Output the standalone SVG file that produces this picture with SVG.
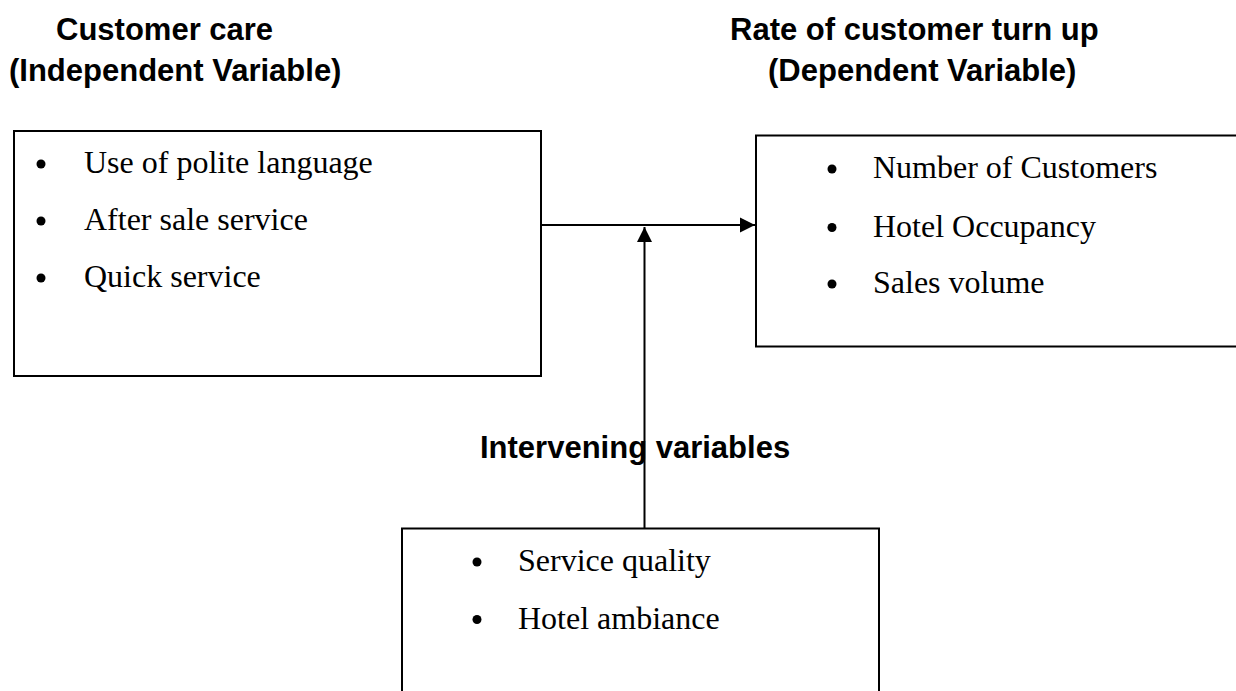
<svg xmlns="http://www.w3.org/2000/svg" width="1236" height="691" viewBox="0 0 1236 691">
<style>
.head{font-family:"Liberation Sans",Arial,sans-serif;font-weight:bold;font-size:31px;fill:#000}
.item{font-family:"Liberation Serif","Times New Roman",serif;font-size:32px;fill:#000}
.box{fill:#fff;stroke:#000;stroke-width:2}
.bul{fill:#000}
.conn{stroke:#000;stroke-width:2;fill:none}
</style>
<defs>
<marker id="arrow" markerUnits="userSpaceOnUse" markerWidth="16" markerHeight="16" viewBox="0 0 16 16" refX="15" refY="8" orient="auto">
<path d="M0,0.5 L15,8 L0,15.5 Z" fill="#000"/>
</marker>
</defs>
<rect width="1236" height="691" fill="#fff"/>
<g id="heading-independent">
<text class="head" x="56" y="39.5">Customer care</text>
<text class="head" x="9" y="81">(Independent Variable)</text>
</g>
<g id="heading-dependent">
<text class="head" x="730" y="39.5">Rate of customer turn up</text>
<text class="head" x="768" y="81">(Dependent Variable)</text>
</g>
<g id="independent">
<rect class="box" x="14" y="131" width="527" height="245"/>
<circle class="bul" cx="41" cy="164" r="4.5"/>
<text class="item" x="84" y="173">Use of polite language</text>
<circle class="bul" cx="41" cy="221" r="4.5"/>
<text class="item" x="84" y="230">After sale service</text>
<circle class="bul" cx="41" cy="278" r="4.5"/>
<text class="item" x="84" y="287">Quick service</text>
</g>
<g id="dependent">
<rect class="box" x="756" y="135.5" width="490" height="211"/>
<circle class="bul" cx="832" cy="169" r="4.5"/>
<text class="item" x="873" y="178">Number of Customers</text>
<circle class="bul" cx="832" cy="227.5" r="4.5"/>
<text class="item" x="873" y="236.5">Hotel Occupancy</text>
<circle class="bul" cx="832" cy="284" r="4.5"/>
<text class="item" x="873" y="293">Sales volume</text>
</g>
<g id="intervening">
<rect class="box" x="402" y="528.5" width="477" height="180"/>
<circle class="bul" cx="477" cy="562" r="4.5"/>
<text class="item" x="518" y="571">Service quality</text>
<circle class="bul" cx="477" cy="619.5" r="4.5"/>
<text class="item" x="518" y="628.5">Hotel ambiance</text>
</g>
<g id="connectors">
<line class="conn" x1="541" y1="225" x2="755" y2="225" marker-end="url(#arrow)"/>
<line class="conn" x1="644.5" y1="528.5" x2="644.5" y2="227" marker-end="url(#arrow)"/>
</g>
<g id="label-intervening">
<text class="head" x="480" y="458">Intervening variables</text>
</g>
</svg>
